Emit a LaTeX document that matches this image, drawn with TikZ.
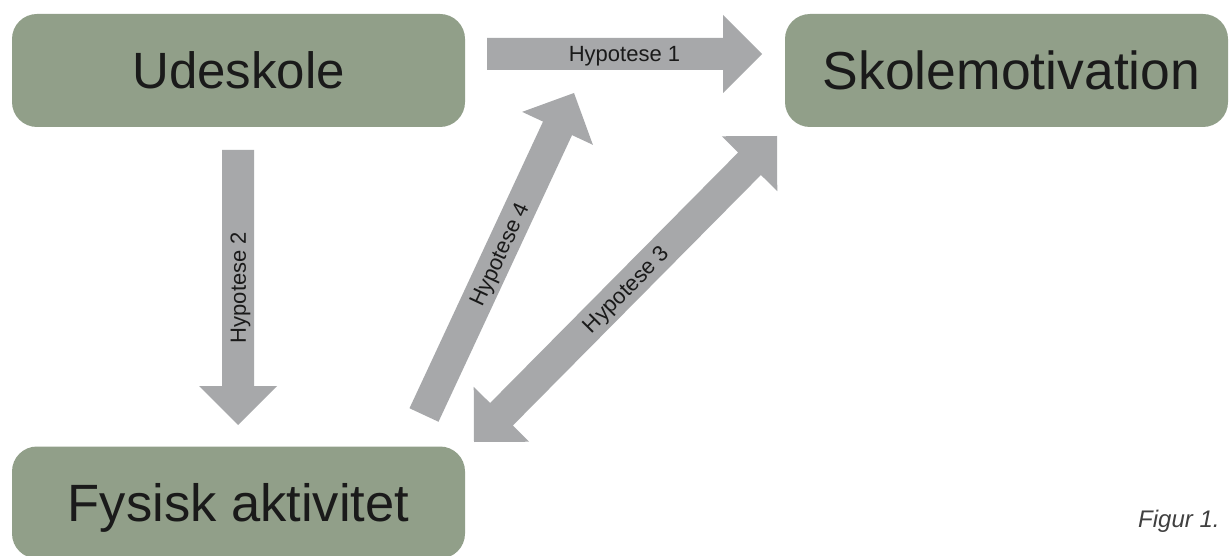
\documentclass[tikz,border=0pt]{standalone}
\usepackage{fontspec}
\setmainfont{Liberation Sans}
\usetikzlibrary{calc}
\definecolor{boxgreen}{HTML}{919F89}
\definecolor{arrowgray}{HTML}{A7A8AA}
\definecolor{txtdark}{HTML}{1A1A1A}
\definecolor{figgray}{HTML}{404040}
\tikzset{
  box/.style={fill=boxgreen, rounded corners=25pt, inner sep=0pt, text=txtdark,
    font=\fontsize{51}{60}\selectfont, text height=36.5pt, text depth=0pt},
  lbl/.style={inner sep=0pt, text=txtdark, font=\fontsize{22}{26}\selectfont,
    text height=15.8pt, text depth=0pt},
  arrowfill/.style={fill=arrowgray}
}
% single block arrow from #1 to #2
\newcommand{\blkarrow}[2]{%
  \coordinate (#1hb) at ($(#2)!39pt!(#1)$);
  \fill[arrowfill] ($(#1)!16pt!90:(#2)$) -- ($(#1hb)!16pt!90:(#2)$) -- ($(#1hb)!39pt!90:(#2)$)
    -- (#2) -- ($(#1hb)!39pt!-90:(#2)$) -- ($(#1hb)!16pt!-90:(#2)$) -- ($(#1)!16pt!-90:(#2)$) -- cycle;}
% double block arrow between #1 and #2
\newcommand{\blkdarrow}[2]{%
  \coordinate (#1hb) at ($(#2)!39pt!(#1)$);
  \coordinate (#1ha) at ($(#1)!39pt!(#2)$);
  \fill[arrowfill] (#1) -- ($(#1ha)!39pt!90:(#2)$) -- ($(#1ha)!16pt!90:(#2)$) -- ($(#1hb)!16pt!90:(#2)$)
    -- ($(#1hb)!39pt!90:(#2)$) -- (#2) -- ($(#1hb)!39pt!-90:(#2)$) -- ($(#1hb)!16pt!-90:(#2)$)
    -- ($(#1ha)!16pt!-90:(#2)$) -- ($(#1ha)!39pt!-90:(#2)$) -- cycle;}
\begin{document}
\begin{tikzpicture}[x=1pt,y=-1pt]
\useasboundingbox (0,0) rectangle (1229,556);
\fill[white] (0,0) rectangle (1229,556);
% boxes
\node[box, minimum width=453pt, minimum height=113pt] (ude) at (238.5,70.5) {Udeskole};
\node[box, minimum width=443pt, minimum height=113pt, font=\fontsize{53.5}{60}\selectfont, text height=38.3pt] (skole) at (1006.5,70.5) {\hspace*{10pt}Skolemotivation};
\node[box, minimum width=453pt, minimum height=112pt, font=\fontsize{52.5}{60}\selectfont, text height=37.6pt] (fys) at (238.5,502.5) {Fysisk aktivitet};
% arrow end points
\coordinate (h1a) at (487,54);  \coordinate (h1b) at (762,54);
\coordinate (h2a) at (238,150); \coordinate (h2b) at (238,425);
\coordinate (h4a) at (424,415); \coordinate (h4b) at (574,93);
\coordinate (h3a) at (474,442); \coordinate (h3b) at (777,136);
% arrows
\blkarrow{h1a}{h1b}
\blkarrow{h2a}{h2b}
\blkarrow{h4a}{h4b}
\blkdarrow{h3a}{h3b}
% labels
\path (h1a) -- (h1b) node[midway, lbl] (l1) {Hypotese 1};
\path (h2b) -- (h2a) node[midway, sloped, lbl] (l2) {Hypotese 2};
\path (h4a) -- (h4b) node[midway, sloped, lbl] (l4) {Hypotese 4};
\path (h3a) -- (h3b) node[midway, sloped, lbl] (l3) {Hypotese 3};
% caption
\node[anchor=base west, inner sep=0pt, text=figgray, font=\itshape\fontsize{24}{29}\selectfont] (fig) at (1138,527) {Figur 1.};
\end{tikzpicture}
\end{document}
